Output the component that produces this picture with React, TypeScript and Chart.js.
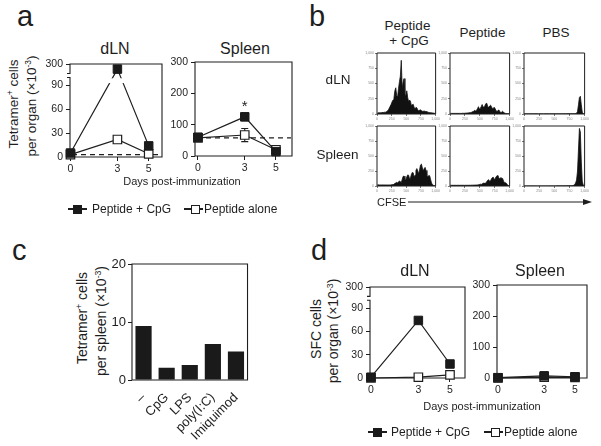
import React, { useEffect, useRef } from 'react';
import { Chart, registerables } from 'chart.js';

Chart.register(...registerables);

const FONT = '"Liberation Sans", Arial, Helvetica, sans-serif';
const INK = '#1e1e1e';
const FILL = '#1a1a1a';

// ---------------- Panel a / d : time courses ----------------
const days = [0, 3, 5];

const aDlnCpg = [5, 250, 14];
const aDlnAlone = [3, 22, 4];
const aDlnBackground = 3;

const aSpleenCpg = [60, 125, 14];
const aSpleenCpgErr = [5, 12, 4];
const aSpleenAlone = [58, 67, 20];
const aSpleenAloneErr = [4, 21, 5];
const aSpleenBackground = 58;

const dDlnCpg = [1, 74, 18];
const dDlnAlone = [0, 1, 4];
const dSpleenCpg = [1, 7, 4];
const dSpleenAlone = [0, 3, 2];

const brokenTickValues = [0, 30, 60, 90, 300];
const spleenTickValues = [0, 100, 200, 300];
const BREAK_FROM = 90;
const BREAK_TO = 300;
const BROKEN_TOP = 117; // display units of the upper end of a broken axis
const AXIS_GAP = [100, 105];
const LINE_GAP = [93, 99];

function toBroken(v: number) {
  return v <= BREAK_FROM ? v : BREAK_FROM + ((v - BREAK_FROM) / (BREAK_TO - BREAK_FROM)) * (BROKEN_TOP - BREAK_FROM);
}

// ---------------- Panel b : CFSE histograms (64 channels each) ----------------
const cfseTicks = [0, 250, 500, 750, 1000];
const countTicks = [0, 250, 500, 750, 1000];
const histDlnCpg = [
  15, 20, 20, 20, 20, 25, 25, 25, 30, 30,
  40, 50, 70, 100, 130, 160, 200, 230, 260, 380,
  430, 300, 280, 420, 530, 620, 880, 420, 520, 580,
  330, 300, 380, 270, 200, 230, 210, 140, 150, 160,
  110, 90, 110, 100, 70, 55, 60, 70, 55, 45,
  45, 50, 40, 40, 35, 30, 25, 25, 22, 20,
  18, 15, 12, 10,
];
const histDlnPeptide = [
  10, 10, 10, 10, 10, 10, 10, 10, 10, 10,
  10, 10, 10, 12, 12, 12, 14, 15, 16, 18,
  20, 22, 25, 30, 40, 45, 60, 50, 60, 85,
  120, 80, 90, 120, 155, 110, 120, 140, 170, 175,
  120, 110, 130, 145, 120, 85, 95, 110, 85, 50,
  45, 60, 65, 40, 25, 30, 45, 30, 15, 10,
  8, 6, 5, 5,
];
const histDlnPbs = [
  4, 3, 3, 3, 2, 3, 3, 3, 3, 2,
  3, 3, 3, 3, 3, 2, 3, 3, 3, 3,
  2, 3, 3, 3, 3, 3, 2, 3, 3, 3,
  4, 3, 3, 3, 3, 4, 3, 3, 3, 4,
  4, 3, 4, 4, 4, 4, 5, 4, 4, 5,
  5, 5, 6, 6, 8, 12, 40, 150, 270, 290,
  150, 30, 5, 2,
];
const histSpleenCpg = [
  20, 20, 18, 18, 18, 18, 18, 18, 18, 18,
  18, 18, 18, 18, 18, 20, 22, 25, 30, 40,
  55, 60, 50, 70, 85, 70, 60, 110, 160, 165,
  110, 100, 150, 185, 180, 120, 130, 190, 225, 220,
  150, 180, 260, 290, 250, 200, 270, 350, 365, 300,
  250, 290, 310, 260, 170, 150, 175, 170, 110, 50,
  25, 12, 8, 5,
];
const histSpleenPeptide = [
  14, 12, 12, 11, 12, 12, 11, 12, 12, 12,
  11, 12, 12, 12, 12, 11, 12, 12, 12, 12,
  13, 12, 14, 14, 14, 15, 15, 16, 17, 18,
  20, 25, 30, 25, 35, 45, 50, 40, 50, 75,
  95, 105, 80, 85, 120, 140, 145, 110, 120, 155,
  170, 175, 130, 120, 140, 130, 125, 80, 60, 55,
  45, 20, 8, 5,
];
const histSpleenPbs = [
  3, 2, 2, 2, 2, 2, 2, 2, 2, 2,
  2, 2, 2, 2, 2, 2, 2, 2, 2, 2,
  2, 2, 2, 2, 2, 2, 2, 2, 2, 2,
  2, 2, 2, 2, 3, 3, 3, 3, 3, 3,
  3, 3, 3, 3, 4, 4, 4, 4, 5, 5,
  5, 8, 12, 25, 50, 100, 250, 600, 960, 900,
  400, 80, 15, 5,
];

// ---------------- Panel c : bars ----------------
const cCategories = ['–', 'CpG', 'LPS', 'poly(I:C)', 'Imiquimod'];
const cValues = [9.3, 2.1, 2.6, 6.2, 4.9];
const cTicks = [0, 10, 20];

// ---------------- helpers ----------------
function framePath(ctx: any, a: any, brokenGap?: [number, number]) {
  ctx.beginPath();
  ctx.moveTo(a.left, a.bottom);
  ctx.lineTo(a.right, a.bottom);
  ctx.lineTo(a.right, a.top);
  ctx.lineTo(a.left, a.top);
  if (brokenGap) {
    ctx.lineTo(a.left, brokenGap[0]);
    ctx.lineTo(a.left - 3, brokenGap[0]);
    ctx.moveTo(a.left - 3, brokenGap[1]);
    ctx.lineTo(a.left, brokenGap[1]);
  }
  ctx.lineTo(a.left, a.bottom);
  ctx.stroke();
}

type LineSpec = {
  cpg: number[];
  alone: number[];
  cpgErr?: number[];
  aloneErr?: number[];
  background?: number;
  broken: boolean;
  yTicks: number[];
  xMin: number;
  xMax: number;
  yW: number;
  star?: boolean;
};

function lineConfig(p: LineSpec): any {
  const tf = (v: number) => (p.broken ? toBroken(v) : v);
  const pts = (vals: number[]) => days.map((d, i) => ({ x: d, y: tf(vals[i]) }));
  const yMax = tf(p.yTicks[p.yTicks.length - 1]);
  const plugin = {
    id: 'decor',
    beforeDatasetsDraw(chart: any) {
      const { ctx, chartArea: a, scales } = chart;
      const xs = scales.x;
      const ys = scales.y;
      ctx.save();
      ctx.strokeStyle = INK;
      ctx.lineWidth = 1.1;
      framePath(ctx, a, p.broken ? [ys.getPixelForValue(AXIS_GAP[1]), ys.getPixelForValue(AXIS_GAP[0])] : undefined);
      if (p.background !== undefined) {
        const yb = ys.getPixelForValue(tf(p.background));
        ctx.setLineDash([5, 4]);
        ctx.beginPath();
        ctx.moveTo(a.left + 2, yb);
        ctx.lineTo(a.right - 1, yb);
        ctx.stroke();
        ctx.setLineDash([]);
      }
      const errs = [p.cpgErr, p.aloneErr];
      const vals = [p.cpg, p.alone];
      errs.forEach((e, k) => {
        if (!e) return;
        e.forEach((ev, i) => {
          if (!ev) return;
          const xp = xs.getPixelForValue(days[i]);
          const y1 = ys.getPixelForValue(tf(vals[k][i] + ev));
          const y2 = ys.getPixelForValue(tf(Math.max(0, vals[k][i] - ev)));
          ctx.beginPath();
          ctx.moveTo(xp, y1);
          ctx.lineTo(xp, y2);
          ctx.moveTo(xp - 3.5, y1);
          ctx.lineTo(xp + 3.5, y1);
          ctx.moveTo(xp - 3.5, y2);
          ctx.lineTo(xp + 3.5, y2);
          ctx.stroke();
        });
      });
      ctx.restore();
    },
    afterDatasetsDraw(chart: any) {
      const { ctx, chartArea: a, scales } = chart;
      const ys = scales.y;
      const xs = scales.x;
      ctx.save();
      if (p.broken) {
        const t = ys.getPixelForValue(LINE_GAP[1]);
        const b = ys.getPixelForValue(LINE_GAP[0]);
        ctx.fillStyle = '#fff';
        ctx.fillRect(a.left + 1, t, a.right - a.left - 2, b - t);
      }
      if (p.star && p.cpgErr) {
        const xp = xs.getPixelForValue(days[1]);
        const yp = ys.getPixelForValue(tf(p.cpg[1] + p.cpgErr[1]));
        ctx.fillStyle = INK;
        ctx.font = `15px ${FONT}`;
        ctx.textAlign = 'center';
        ctx.textBaseline = 'alphabetic';
        ctx.fillText('*', xp, yp - 2);
      }
      ctx.restore();
    },
  };
  return {
    type: 'line',
    data: {
      datasets: [
        {
          label: 'Peptide + CpG',
          data: pts(p.cpg),
          borderColor: INK,
          borderWidth: 1.2,
          pointStyle: 'rect',
          pointRadius: 6,
          pointBackgroundColor: FILL,
          pointBorderColor: FILL,
          pointBorderWidth: 1,
          tension: 0,
          clip: false,
        },
        {
          label: 'Peptide alone',
          data: pts(p.alone),
          borderColor: INK,
          borderWidth: 1.2,
          pointStyle: 'rect',
          pointRadius: 6,
          pointBackgroundColor: '#ffffff',
          pointBorderColor: INK,
          pointBorderWidth: 1.2,
          tension: 0,
          clip: false,
        },
      ],
    },
    options: {
      animation: false,
      responsive: false,
      devicePixelRatio: 1,
      events: [],
      layout: { padding: { top: 14, right: 10, left: 0, bottom: 0 }, autoPadding: false },
      plugins: { legend: { display: false }, tooltip: { enabled: false } },
      scales: {
        x: {
          type: 'linear',
          min: p.xMin,
          max: p.xMax,
          afterBuildTicks: (s: any) => {
            s.ticks = days.map((v) => ({ value: v }));
          },
          afterFit: (s: any) => {
            s.height = 23;
          },
          grid: { display: true, drawOnChartArea: false, drawTicks: true, tickLength: 4, color: INK, lineWidth: 1 },
          border: { display: false },
          ticks: { font: { family: FONT, size: 10.5 }, color: INK, padding: 2, maxRotation: 0, autoSkip: false },
        },
        y: {
          type: 'linear',
          min: 0,
          max: yMax,
          afterBuildTicks: (s: any) => {
            s.ticks = p.yTicks.map((v) => ({ value: tf(v) }));
          },
          afterFit: (s: any) => {
            s.width = p.yW;
          },
          grid: { display: true, drawOnChartArea: false, drawTicks: true, tickLength: 4, color: INK, lineWidth: 1 },
          border: { display: false },
          ticks: {
            font: { family: FONT, size: 10.5 },
            color: INK,
            padding: 3,
            autoSkip: false,
            callback: (_v: any, i: number) => String(p.yTicks[i]),
          },
        },
      },
    },
    plugins: [plugin],
  };
}

function histConfig(counts: number[]): any {
  const binW = 1000 / counts.length;
  const plugin = {
    id: 'frame',
    afterDatasetsDraw(chart: any) {
      const { ctx, chartArea: a } = chart;
      ctx.save();
      ctx.strokeStyle = INK;
      ctx.lineWidth = 1;
      framePath(ctx, a);
      ctx.restore();
    },
  };
  const tickFont = { family: FONT, size: 3.5 };
  return {
    type: 'line',
    data: {
      datasets: [
        {
          data: counts.map((c, i) => ({ x: (i + 0.5) * binW, y: c })),
          borderColor: '#111',
          backgroundColor: '#111',
          borderWidth: 0.8,
          pointRadius: 0,
          fill: 'origin',
          tension: 0,
        },
      ],
    },
    options: {
      animation: false,
      responsive: false,
      devicePixelRatio: 1,
      events: [],
      layout: { padding: { top: 4, right: 3, left: 0, bottom: 0 }, autoPadding: false },
      plugins: { legend: { display: false }, tooltip: { enabled: false } },
      scales: {
        x: {
          type: 'linear',
          min: 0,
          max: 1000,
          afterBuildTicks: (s: any) => {
            s.ticks = cfseTicks.map((v) => ({ value: v }));
          },
          afterFit: (s: any) => {
            s.height = 9;
          },
          grid: { display: true, drawOnChartArea: false, tickLength: 2, color: '#555', lineWidth: 0.8 },
          border: { display: false },
          ticks: { font: tickFont, color: '#888', padding: 1, maxRotation: 0, autoSkip: false },
        },
        y: {
          type: 'linear',
          min: 0,
          max: 1000,
          afterBuildTicks: (s: any) => {
            s.ticks = countTicks.map((v) => ({ value: v }));
          },
          afterFit: (s: any) => {
            s.width = 14;
          },
          grid: { display: true, drawOnChartArea: false, tickLength: 2, color: '#555', lineWidth: 0.8 },
          border: { display: false },
          ticks: { font: tickFont, color: '#888', padding: 1, autoSkip: false },
        },
      },
    },
    plugins: [plugin],
  };
}

function barConfig(): any {
  const plugin = {
    id: 'frame',
    afterDatasetsDraw(chart: any) {
      const { ctx, chartArea: a } = chart;
      ctx.save();
      ctx.strokeStyle = INK;
      ctx.lineWidth = 1.1;
      framePath(ctx, a);
      ctx.restore();
    },
  };
  return {
    type: 'bar',
    data: {
      labels: cCategories,
      datasets: [
        {
          data: cValues,
          backgroundColor: FILL,
          borderWidth: 0,
          barPercentage: 0.7,
          categoryPercentage: 1,
        },
      ],
    },
    options: {
      animation: false,
      responsive: false,
      devicePixelRatio: 1,
      events: [],
      layout: { padding: { top: 14, right: 10, left: 0, bottom: 0 }, autoPadding: false },
      plugins: { legend: { display: false }, tooltip: { enabled: false } },
      scales: {
        x: {
          afterFit: (s: any) => {
            s.height = 66;
          },
          grid: { display: false, drawTicks: false },
          border: { display: false },
          ticks: { font: { family: FONT, size: 13 }, color: INK, padding: 10, minRotation: 45, maxRotation: 45, autoSkip: false },
        },
        y: {
          min: 0,
          max: 20,
          afterBuildTicks: (s: any) => {
            s.ticks = cTicks.map((v) => ({ value: v }));
          },
          afterFit: (s: any) => {
            s.width = 36;
          },
          grid: { display: true, drawOnChartArea: false, tickLength: 4, color: INK, lineWidth: 1 },
          border: { display: false },
          ticks: { font: { family: FONT, size: 13 }, color: INK, padding: 2, autoSkip: false },
        },
      },
    },
    plugins: [plugin],
  };
}

function ChartBox({ left, top, width, height, make }: { left: number; top: number; width: number; height: number; make: () => any }) {
  const ref = useRef<HTMLCanvasElement>(null);
  useEffect(() => {
    const chart = new Chart(ref.current as HTMLCanvasElement, make());
    return () => chart.destroy();
  }, []);
  return <canvas ref={ref} width={width} height={height} style={{ position: 'absolute', left, top, width, height, display: 'block' }} />;
}

function Txt({ x, y, size, children, rot = false, align = 'center' }: any) {
  const tx = align === 'center' ? '-50%' : '0';
  return (
    <div
      style={{
        position: 'absolute',
        left: x,
        top: y,
        fontSize: size,
        lineHeight: 1,
        whiteSpace: 'nowrap',
        color: INK,
        fontFamily: FONT,
        transform: `translate(${tx}, -50%)${rot ? ' rotate(-90deg)' : ''}`,
      }}
    >
      {children}
    </div>
  );
}

const supStyle: any = { fontSize: '0.62em', verticalAlign: 'baseline', position: 'relative', top: '-0.6em' };

function Letter({ x, y, children }: any) {
  return (
    <div style={{ position: 'absolute', left: x, top: y, fontSize: 29, lineHeight: 1, fontFamily: FONT, color: INK }}>{children}</div>
  );
}

function LegendItem({ x1, x2, sq, y, textX, filled, label }: any) {
  return (
    <>
      <div style={{ position: 'absolute', left: x1, top: y - 0.6, width: x2 - x1, height: 1.2, background: INK }} />
      <div
        style={{
          position: 'absolute',
          left: sq - 4.5,
          top: y - 4.5,
          width: 9,
          height: 9,
          boxSizing: 'border-box',
          background: filled ? FILL : '#fff',
          border: `1.2px solid ${filled ? FILL : INK}`,
        }}
      />
      <Txt x={textX} y={y} size={12} align="left">
        {label}
      </Txt>
    </>
  );
}

const histCols = [377, 450, 524];
const histColW = [61, 62, 63];
const histRows = [53, 126];
const histRowH = [61, 60];
const histData = [
  [histDlnCpg, histDlnPeptide, histDlnPbs],
  [histSpleenCpg, histSpleenPeptide, histSpleenPbs],
];

export default function App() {
  return (
    <div style={{ position: 'absolute', left: 0, top: 0, width: 601, height: 446, background: '#fff', overflow: 'hidden', fontFamily: FONT }}>
      {/* ---------- a ---------- */}
      <Letter x={17} y={2}>a</Letter>
      <Txt x={115} y={49} size={16}>dLN</Txt>
      <Txt x={245} y={49} size={16}>Spleen</Txt>
      <Txt x={14} y={104} size={13.5} rot>
        Tetramer<sup style={supStyle}>+</sup> cells
      </Txt>
      <Txt x={32} y={106} size={13.5} rot>
        per organ (×10<sup style={supStyle}>-3</sup>)
      </Txt>
      <ChartBox
        left={0}
        top={50}
        width={172}
        height={130}
        make={() =>
          lineConfig({ cpg: aDlnCpg, alone: aDlnAlone, background: aDlnBackground, broken: true, yTicks: brokenTickValues, xMin: -0.03, xMax: 5.85, yW: 70 })
        }
      />
      <ChartBox
        left={165}
        top={48}
        width={137}
        height={131}
        make={() =>
          lineConfig({
            cpg: aSpleenCpg,
            alone: aSpleenAlone,
            cpgErr: aSpleenCpgErr,
            aloneErr: aSpleenAloneErr,
            background: aSpleenBackground,
            broken: false,
            yTicks: spleenTickValues,
            xMin: -0.19,
            xMax: 6.03,
            yW: 30,
            star: true,
          })
        }
      />
      <Txt x={182} y={181} size={11}>Days post-immunization</Txt>
      <LegendItem x1={68} x2={87} sq={77.5} y={209} textX={92} filled label="Peptide + CpG" />
      <LegendItem x1={184} x2={203} sq={195} y={209} textX={204} filled={false} label="Peptide alone" />

      {/* ---------- b ---------- */}
      <Letter x={309} y={2}>b</Letter>
      <Txt x={407.5} y={26} size={13.5}>Peptide</Txt>
      <Txt x={409} y={41} size={13.5}>+ CpG</Txt>
      <Txt x={482.5} y={33} size={13.5}>Peptide</Txt>
      <Txt x={556} y={33} size={13.5}>PBS</Txt>
      <Txt x={338} y={80} size={13.5}>dLN</Txt>
      <Txt x={337.5} y={155} size={13.5}>Spleen</Txt>
      {histRows.map((rt, r) =>
        histCols.map((cl, c) => (
          <ChartBox
            key={`h${r}${c}`}
            left={cl - 14}
            top={rt - 4}
            width={histColW[c] + 17}
            height={histRowH[r] + 13}
            make={() => histConfig(histData[r][c])}
          />
        ))
      )}
      <Txt x={377} y={202} size={11} align="left">CFSE</Txt>
      <svg style={{ position: 'absolute', left: 405, top: 196 }} width={190} height={12}>
        <line x1={3} y1={6} x2={180} y2={6} stroke={INK} strokeWidth={1.1} />
        <polygon points="178,3 187,6 178,9" fill={INK} />
      </svg>

      {/* ---------- c ---------- */}
      <Letter x={12} y={236}>c</Letter>
      <Txt x={82} y={318} size={14} rot>
        Tetramer<sup style={supStyle}>+</sup> cells
      </Txt>
      <Txt x={101} y={321} size={14} rot>
        per spleen (×10<sup style={supStyle}>-3</sup>)
      </Txt>
      <ChartBox left={96} top={250} width={162} height={196} make={barConfig} />

      {/* ---------- d ---------- */}
      <Letter x={311} y={236}>d</Letter>
      <Txt x={415} y={271} size={16}>dLN</Txt>
      <Txt x={540} y={271} size={16}>Spleen</Txt>
      <Txt x={315.5} y={329} size={14} rot>SFC cells</Txt>
      <Txt x={332.5} y={331} size={14} rot>
        per organ (×10<sup style={supStyle}>-3</sup>)
      </Txt>
      <ChartBox
        left={300}
        top={273}
        width={175}
        height={128}
        make={() => lineConfig({ cpg: dDlnCpg, alone: dDlnAlone, broken: true, yTicks: brokenTickValues, xMin: -0.06, xMax: 5.95, yW: 70 })}
      />
      <ChartBox
        left={467}
        top={271}
        width={130}
        height={130}
        make={() => lineConfig({ cpg: dSpleenCpg, alone: dSpleenAlone, broken: false, yTicks: spleenTickValues, xMin: -0.065, xMax: 5.78, yW: 30 })}
      />
      <Txt x={482} y={406} size={11}>Days post-immunization</Txt>
      <LegendItem x1={368} x2={387} sq={377.5} y={432} textX={391} filled label="Peptide + CpG" />
      <LegendItem x1={484} x2={503} sq={495} y={432} textX={504} filled={false} label="Peptide alone" />
    </div>
  );
}
